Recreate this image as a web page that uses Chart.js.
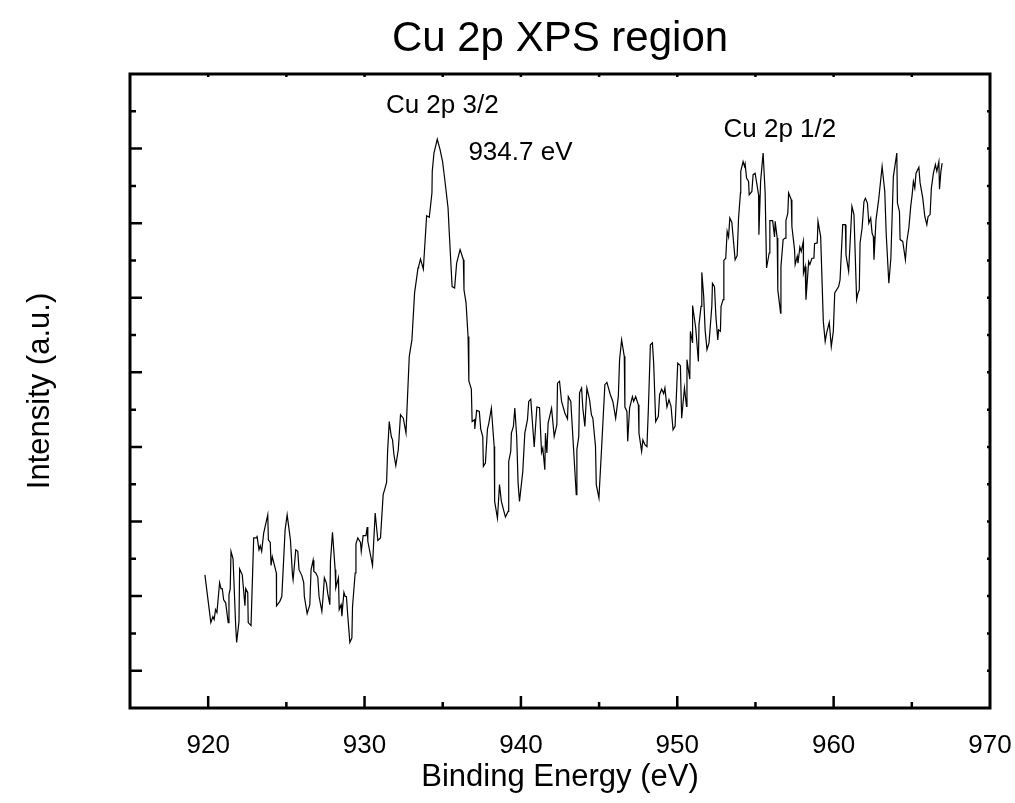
<!DOCTYPE html>
<html>
<head>
<meta charset="utf-8">
<script src="https://cdn.jsdelivr.net/npm/chart.js@4.4.1/dist/chart.umd.min.js"></script>
<style>
    html, body { margin: 0; padding: 0; background: #fff; }
    #wrap { width: 1015px; height: 803px; }
</style>
</head>
<body>
<div id="wrap"><canvas id="xps"></canvas></div>
<script>
// ---------------- DATA ----------------
const bindingEnergy = [
    919.79, 920.17, 920.30, 920.38, 920.47, 920.56, 920.73, 920.82, 920.90, 920.99,
    921.12, 921.28, 921.33, 921.41, 921.46, 921.59, 921.76, 921.82, 921.97, 922.01,
    922.18, 922.35, 922.40, 922.53, 922.56, 922.74, 922.91, 923.08, 923.12, 923.25,
    923.33, 923.42, 923.55, 923.81, 923.85, 923.97, 924.02, 924.10, 924.36, 924.37,
    924.58, 924.71, 924.92, 925.05, 925.26, 925.39, 925.43, 925.51, 925.60, 925.73,
    925.81,
    925.99, 926.11, 926.15, 926.33, 926.50, 926.58, 926.71, 926.76, 926.88, 927.01,
    927.09, 927.27, 927.35, 927.43, 927.56, 927.65, 927.78, 927.82, 927.95, 928.12,
    928.16, 928.33, 928.38, 928.50, 928.55, 928.68, 928.76, 928.84, 928.93, 929.06,
    929.19, 929.23, 929.40, 929.45, 929.57, 929.74, 929.79, 929.91, 930.09, 930.17,
    930.21, 930.51, 930.68, 930.85, 931.02, 931.19, 931.28, 931.41,
    931.48, 931.58, 931.71, 931.79, 931.88, 932.00, 932.16, 932.30, 932.48, 932.65,
    932.86, 933.03, 933.20, 933.42, 933.46, 933.58, 933.76, 933.97, 934.14, 934.31,
    934.33, 934.44, 934.65, 934.83, 934.99, 935.12, 935.34, 935.42, 935.60, 935.76,
    935.89, 936.11, 936.32, 936.36, 936.49, 936.62, 936.67, 936.83, 936.88, 937.04,
    937.05, 937.17, 937.34, 937.43, 937.56, 937.60, 937.73, 937.86, 937.94, 938.11,
    938.29, 938.32, 938.50, 938.63, 938.75, 939.01, 939.18, 939.22, 939.35, 939.39,
    939.52, 939.61, 939.73, 939.82, 939.91, 940.12, 940.25, 940.42, 940.50, 940.63,
    940.85, 941.02, 941.19, 941.32, 941.40, 941.53, 941.57, 941.66, 941.74, 941.96,
    942.13, 942.30, 942.34, 942.47, 942.60, 942.81, 942.98, 943.03, 943.19, 943.54,
    943.58, 943.70, 943.75, 943.88, 943.96, 944.09, 944.22, 944.39, 944.51, 944.60,
    944.77, 944.82, 944.99, 945.16, 945.37, 945.50, 945.72, 945.88, 946.06, 946.23,
    946.31, 946.44, 946.61, 946.65, 946.78, 946.83, 946.95, 947.13, 947.21, 947.34,
    947.51, 947.55, 947.72, 947.80, 947.93, 948.06, 948.15, 948.28, 948.41, 948.49,
    948.62, 948.79, 948.87, 949.00, 949.13, 949.21, 949.34, 949.47, 949.60, 949.73,
    949.86, 950.03, 950.20, 950.28, 950.46, 950.59, 950.62, 950.80, 950.84, 950.97,
    950.98, 951.18, 951.35, 951.39, 951.52, 951.57, 951.69, 951.78, 951.90, 952.03,
    952.21, 952.25, 952.38, 952.47, 952.59, 952.64, 952.76, 952.80, 952.93, 952.98,
    953.10, 953.19, 953.28, 953.36, 953.49, 953.70, 953.83, 953.92, 954.04, 954.06,
    954.21, 954.30, 954.34, 954.43, 954.56, 954.60, 954.77, 954.85, 954.98, 955.20,
    955.22, 955.33, 955.49, 955.62, 955.71, 955.88, 955.92, 956.10, 956.22, 956.26,
    956.39, 956.43, 956.61, 956.63, 956.77, 956.90, 956.95, 957.07, 957.12, 957.29,
    957.33, 957.50, 957.54, 957.67, 957.72, 957.84, 957.93, 958.06, 958.07, 958.18,
    958.23, 958.36, 958.40, 958.48, 958.61, 958.74, 958.78, 958.95, 959.00, 959.17,
    959.34, 959.46, 959.55, 959.72, 959.85, 959.98, 960.07, 960.32, 960.41, 960.58,
    960.75, 960.79, 960.96, 961.17, 961.30, 961.47, 961.56, 961.64, 961.69, 961.82,
    961.94, 962.03, 962.16, 962.25, 962.37, 962.46, 962.54, 962.58, 962.71, 962.88,
    963.10, 963.27, 963.36, 963.53, 963.66, 963.82, 964.04, 964.08, 964.21, 964.25,
    964.42, 964.59, 964.68, 964.81, 964.93, 965.02, 965.10, 965.19, 965.27, 965.45,
    965.53, 965.70, 965.83, 965.96, 966.04, 966.17, 966.25, 966.38, 966.51, 966.60,
    966.73, 966.77, 966.86, 966.94
];

const intensity = [
    3.57, 2.29, 2.45, 2.37, 2.64, 2.56, 3.36, 3.20, 3.20, 2.90,
    2.82, 2.29, 3.04, 3.20, 4.20, 4.00, 2.19, 1.76, 2.32, 3.73,
    3.57, 2.74, 3.20, 3.09, 2.29, 2.21, 4.56, 4.56, 4.62, 4.24,
    4.35, 4.20, 4.69, 5.18, 4.51, 4.44, 3.82, 4.06, 3.62, 2.74,
    2.86, 2.99, 4.78, 5.18, 4.51, 3.57, 3.44, 3.80, 4.24, 4.20,
    3.71,
    3.55, 3.36, 2.99, 2.53, 2.77, 3.71, 3.96, 3.66, 3.62, 3.51,
    2.99, 2.59, 2.99, 3.49, 3.35, 3.06, 2.77, 3.93, 4.71, 3.71,
    3.22, 3.49, 2.64, 2.77, 2.46, 3.10, 2.99, 2.99, 2.46, 1.76,
    1.88, 2.71, 3.62, 4.40, 4.56, 4.44, 4.20, 4.62, 4.62, 4.85,
    4.47, 3.82, 5.23, 4.49, 4.56, 5.72, 5.85, 6.05,
    6.93, 7.68, 7.28, 7.19, 6.79, 6.50, 6.93, 7.86, 7.77, 7.37,
    9.43, 9.87, 11.13, 11.80, 11.84, 12.04, 11.77, 13.20, 13.16, 13.81,
    14.39, 14.88, 15.25, 14.97, 14.65, 14.21, 13.41, 12.73, 11.30, 11.26,
    11.93, 12.29, 12.02, 11.21, 10.87, 9.96, 8.77, 8.55, 7.68, 7.73,
    7.48, 7.98, 7.95, 7.48, 7.28, 6.48, 6.57, 7.48, 7.62, 8.04,
    7.01, 5.54, 5.09, 5.99, 5.54, 5.12, 5.27, 6.61, 6.88, 7.37,
    7.55, 8.04, 7.28, 6.03, 5.54, 6.34, 7.37, 7.73, 8.22, 8.28,
    7.00, 8.07, 8.05, 6.85, 6.97, 6.39, 7.37, 6.84, 7.64, 8.04,
    7.28, 7.60, 8.71, 8.76, 8.22, 7.91, 7.75, 8.35, 8.22, 5.72,
    6.93, 7.28, 8.45, 8.58, 8.04, 7.55, 8.58, 8.27, 7.86, 7.77,
    7.01, 5.99, 5.63, 6.97, 8.67, 8.73, 8.40, 8.22, 7.77, 8.35,
    9.34, 9.87, 9.43, 8.07, 7.95, 7.15, 8.04, 8.35, 8.22, 8.35,
    8.13, 7.37, 6.88, 7.19, 7.06, 7.01, 8.00, 9.74, 9.79, 9.25,
    7.68, 7.82, 8.40, 8.55, 8.43, 8.58, 8.07, 8.27, 8.09, 7.46,
    7.55, 9.25, 9.18, 7.77, 8.58, 8.09, 9.34, 8.82, 10.10, 9.80,
    10.79, 10.19, 9.29, 10.28, 10.77, 11.68, 11.04, 10.14, 9.61, 9.79,
    10.77, 11.39, 11.30, 10.50, 9.87, 10.14, 10.10, 10.77, 10.95, 12.00,
    12.06, 12.78, 12.63, 13.14, 13.02, 12.02, 12.13, 13.14, 13.81, 14.39,
    14.65, 14.52, 14.59, 14.21, 14.12, 13.76, 13.85, 14.30, 14.34, 13.76,
    12.69, 14.12, 14.88, 13.81, 11.80, 12.20, 13.07, 13.07, 12.63, 13.05,
    12.60, 11.21, 10.59, 11.84, 12.56, 12.60, 13.07, 13.27, 13.81, 13.63,
    12.91, 12.29, 11.89, 12.11, 11.93, 12.36, 12.24, 12.51, 11.66, 11.84,
    10.95, 11.71, 11.97, 11.89, 12.06, 12.06, 12.45, 12.47, 13.05, 12.64,
    10.36, 9.83, 10.05, 10.34, 9.69, 10.10, 11.13, 11.30, 11.48, 12.96,
    12.96, 12.15, 11.71, 13.45, 13.23, 10.95, 11.13, 11.21, 12.47, 12.87,
    13.58, 13.67, 13.54, 13.00, 13.14, 12.73, 12.64, 12.02, 13.09, 13.63,
    14.52, 13.85, 12.73, 11.39, 12.06, 14.25, 14.88, 13.54, 13.31, 12.56,
    12.51, 12.02, 12.51, 12.87, 13.45, 13.76, 14.12, 13.94, 14.34, 14.50,
    14.08, 13.67, 13.18, 12.96, 13.18, 13.23, 13.94, 14.34, 14.57, 14.39,
    14.65, 13.91, 14.39, 14.61
];

const xTickLabels = [920, 930, 940, 950, 960, 970];

// peak annotations, placed in data units
const peakLabels = ["Cu 2p 3/2", "934.7 eV", "Cu 2p 1/2"];
const peakLabelX = [934.97, 939.97, 956.56];
const peakLabelY = [16.15, 14.89, 15.50];

const FONT = "'Liberation Sans', Arial, sans-serif";

// ---------------- PLUGINS ----------------
// Origin-style frame with ticks pointing inwards
const frameTicks = {
    id: "frameTicks",
    afterDatasetsDraw(chart) {
        const { ctx, chartArea: a, scales: { x, y } } = chart;

        ctx.save();
        ctx.strokeStyle = "#000";
        ctx.lineWidth = 2.5;

        ctx.beginPath();
        x.ticks.forEach((t) => {
            if (t.value <= x.min || t.value >= x.max) return;
            const px = x.getPixelForValue(t.value);
            const len = t.value % 10 === 0 ? 12 : 6;
            ctx.moveTo(px, a.bottom);
            ctx.lineTo(px, a.bottom - len);
            ctx.moveTo(px, a.top);
            ctx.lineTo(px, a.top + 3);
        });
        y.ticks.forEach((t) => {
            if (t.value <= y.min || t.value >= y.max) return;
            const py = y.getPixelForValue(t.value);
            const len = t.value % 2 === 1 ? 12 : 6;
            ctx.moveTo(a.left, py);
            ctx.lineTo(a.left + len, py);
            ctx.moveTo(a.right, py);
            ctx.lineTo(a.right - 3, py);
        });
        ctx.stroke();

        ctx.lineWidth = 3;
        ctx.strokeRect(a.left, a.top, a.right - a.left, a.bottom - a.top);
        ctx.restore();
    }
};

const peakText = {
    id: "peakText",
    afterDatasetsDraw(chart) {
        const { ctx, scales: { x, y } } = chart;

        ctx.save();
        ctx.fillStyle = "#000";
        ctx.font = "26px " + FONT;
        ctx.textAlign = "center";
        ctx.textBaseline = "middle";
        peakLabels.forEach((label, i) => {
            ctx.fillText(label, x.getPixelForValue(peakLabelX[i]), y.getPixelForValue(peakLabelY[i]));
        });
        ctx.restore();
    }
};

// ---------------- CHART ----------------
const points = bindingEnergy.map((e, i) => ({ x: e, y: intensity[i] }));

new Chart(document.getElementById("xps"), {
    type: "line",

    data: {
        datasets: [{
            label: "Cu 2p",
            data: points,
            borderColor: "#000",
            borderWidth: 1.2,
            pointRadius: 0,
            tension: 0,
            fill: false
        }]
    },

    options: {
        responsive: true,
        maintainAspectRatio: false,
        animation: false,
        layout: {
            padding: { left: 22, right: 25, top: 0, bottom: 7 }
        },
        plugins: {
            legend: { display: false },
            tooltip: { enabled: false },
            title: {
                display: true,
                fullSize: false,
                text: "Cu 2p XPS region",
                color: "#000",
                font: { family: FONT, size: 42, weight: "normal" },
                padding: { top: 14, bottom: 9.6 }
            }
        },
        scales: {
            x: {
                type: "linear",
                min: 915,
                max: 970,
                grid: { display: false, drawTicks: true, tickLength: 22 },
                border: { display: false },
                ticks: {
                    stepSize: 5,
                    autoSkip: false,
                    maxRotation: 0,
                    color: "#000",
                    padding: 0,
                    font: { family: FONT, size: 26 },
                    callback: (v) => xTickLabels.includes(v) ? String(v) : ""
                },
                title: {
                    display: true,
                    text: "Binding Energy (eV)",
                    color: "#000",
                    font: { family: FONT, size: 31 },
                    padding: 0
                },
                afterFit: (s) => { s.height = 88; }
            },
            y: {
                min: 0,
                max: 17,
                grid: { display: false, drawTicks: false },
                border: { display: false },
                ticks: { stepSize: 1, display: false },
                title: {
                    display: true,
                    text: "Intensity (a.u.)",
                    color: "#000",
                    font: { family: FONT, size: 31 },
                    padding: 0
                },
                afterFit: (s) => { s.width = 108; }
            }
        }
    },

    plugins: [frameTicks, peakText]
});
</script>
</body>
</html>
